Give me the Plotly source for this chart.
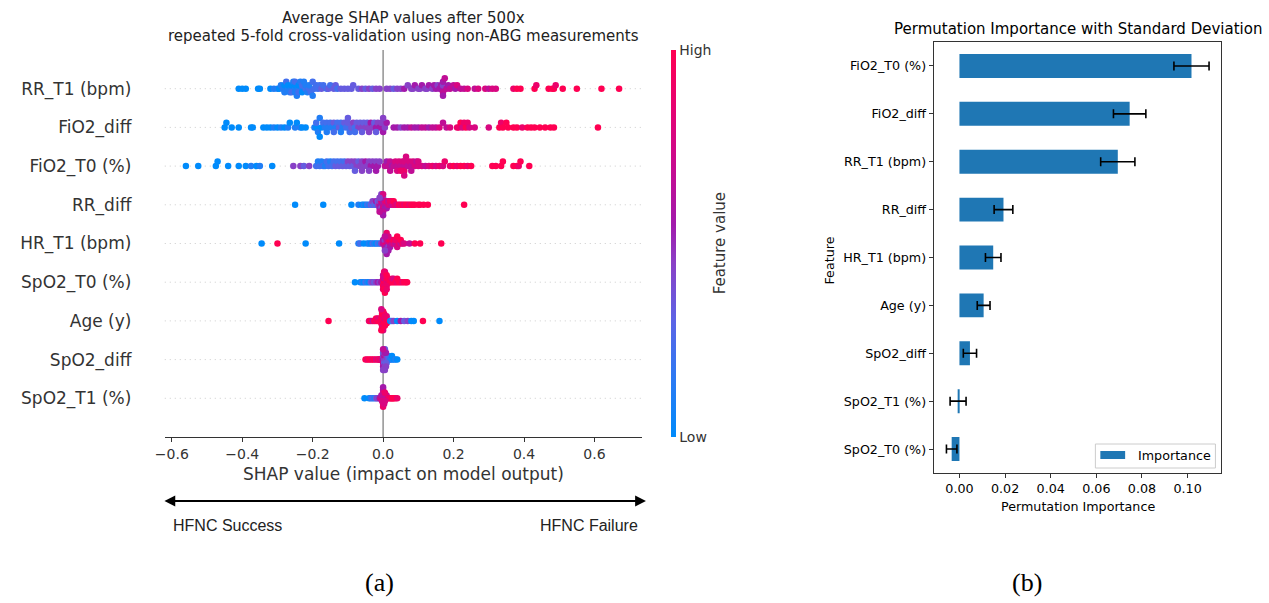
import numpy as np
import plotly.graph_objects as go

W, H = 1269, 603

# ---------------- Data: SHAP beeswarm (panel a) ----------------
shap_features = ["RR_T1 (bpm)", "FiO2_diff", "FiO2_T0 (%)", "RR_diff", "HR_T1 (bpm)",
                 "SpO2_T0 (%)", "Age (y)", "SpO2_diff", "SpO2_T1 (%)"]

rr_t1_x = [-0.41, -0.40, -0.39, -0.355, -0.35, -0.32, -0.31,
           -0.30, -0.295, -0.29, -0.285, -0.28, -0.28, -0.275, -0.27, -0.27, -0.265,
           -0.26, -0.26, -0.26, -0.255, -0.25, -0.25, -0.25, -0.25, -0.245, -0.24,
           -0.24, -0.24, -0.235, -0.23, -0.23, -0.23, -0.225, -0.22, -0.22, -0.215,
           -0.21, -0.21, -0.205, -0.20, -0.20, -0.195, -0.19, -0.185, -0.18, -0.175,
           -0.17, -0.16, -0.155, -0.15, -0.14, -0.135, -0.13, -0.12, -0.11, -0.10,
           -0.09, -0.085, -0.07, -0.06, -0.05, -0.04, -0.03, -0.02, -0.01,
           0.01, 0.02, 0.03, 0.04, 0.05, 0.06, 0.07, 0.08, 0.085, 0.09,
           0.10, 0.105, 0.11, 0.12, 0.125, 0.13, 0.14, 0.145, 0.15, 0.155,
           0.16, 0.165, 0.17, 0.17, 0.17, 0.17, 0.17, 0.175,
           0.18, 0.185, 0.19, 0.20, 0.205, 0.21, 0.22, 0.23, 0.24, 0.26, 0.27, 0.29, 0.30, 0.31, 0.32,
           0.37, 0.38, 0.39, 0.43, 0.435, 0.47, 0.48, 0.485, 0.49, 0.51, 0.55, 0.62, 0.67]
rr_t1_v = [0, 0, 0, 0, 0, 0, 1,
           1, 0, 1, 1, 0, 1, 2, 1, 0, 1,
           1, 0, 2, 1, 1, 0, 1, 2, 1, 1,
           0, 2, 1, 1, 2, 0, 1, 2, 1, 1,
           2, 1, 2, 2, 1, 2, 2, 2, 2, 3,
           2, 2, 3, 2, 3, 3, 2, 3, 3, 3,
           3, 3, 3, 4, 3, 4, 3, 4, 4,
           4, 4, 3, 4, 4, 5, 4, 4, 4, 5,
           4, 4, 5, 4, 4, 5, 4, 5, 5, 4,
           5, 5, 5, 4, 6, 5, 5, 6,
           6, 5, 6, 6, 5, 7, 6, 6, 7, 6, 7, 7, 6, 7, 7,
           8, 9, 9, 9, 8, 9, 9, 9, 8, 9, 9, 9, 9]

fio2_diff_x = [-0.45, -0.445, -0.43, -0.41, -0.375, -0.37, -0.34, -0.33, -0.32, -0.31,
               -0.30, -0.29, -0.28, -0.27, -0.265, -0.25, -0.245, -0.235, -0.23, -0.22,
               -0.195, -0.19, -0.19, -0.185, -0.18, -0.175, -0.17, -0.165, -0.16, -0.155,
               -0.15, -0.145, -0.14, -0.135, -0.13, -0.125, -0.12, -0.115, -0.11, -0.105,
               -0.10, -0.095, -0.09, -0.085, -0.08, -0.075, -0.07, -0.065, -0.06, -0.055,
               -0.05, -0.045, -0.04, -0.035, -0.03, -0.025, -0.02, -0.015, -0.01, -0.005,
               0.0, 0.005, 0.01,
               -0.18, -0.16, -0.14, -0.12, -0.10, -0.08, -0.06, -0.04, -0.02, 0.0,
               0.03, 0.04, 0.05, 0.06, 0.07, 0.08, 0.09,
               0.10, 0.11, 0.12, 0.13, 0.14, 0.15, 0.16, 0.17, 0.18, 0.19,
               0.21, 0.215, 0.22, 0.225, 0.23, 0.235, 0.24, 0.245,
               0.26, 0.30, 0.33, 0.335, 0.34, 0.35, 0.355, 0.37, 0.38, 0.395,
               0.41, 0.42, 0.43, 0.445, 0.46, 0.475, 0.485, 0.61]
fio2_diff_v = [0, 0, 0, 0, 0, 0, 0, 0, 0, 1,
               0, 1, 0, 1, 0, 1, 0, 1, 0, 0,
               1, 0, 2, 1, 1, 0, 2, 1, 2, 1,
               2, 1, 3, 1, 2, 3, 2, 1, 3, 2,
               3, 2, 3, 4, 2, 3, 4, 3, 4, 3,
               4, 3, 4, 5, 4, 3, 5, 4, 5, 4,
               5, 4, 5,
               0, 1, 2, 1, 3, 2, 3, 4, 3, 4,
               5, 5, 4, 5, 5, 6, 5,
               5, 6, 6, 5, 6, 6, 7, 6, 6, 7,
               8, 8, 9, 7, 8, 9, 8, 7,
               7, 7, 9, 8, 9, 9, 9, 9, 9, 8,
               9, 9, 9, 9, 9, 9, 9, 9]

fio2_t0_x = [-0.56, -0.525, -0.475, -0.47, -0.44, -0.41, -0.39, -0.375, -0.36, -0.35, -0.315,
             -0.255, -0.235, -0.225, -0.21,
             -0.19, -0.185, -0.18, -0.175, -0.17, -0.165, -0.16, -0.155, -0.15, -0.145,
             -0.14, -0.135, -0.13, -0.125, -0.12, -0.115, -0.11,
             -0.105, -0.10, -0.095, -0.09, -0.085, -0.08, -0.075, -0.07, -0.065, -0.06,
             -0.055, -0.05, -0.045, -0.04, -0.035, -0.03, -0.025, -0.02, -0.015, -0.01,
             0.005, 0.01, 0.015, 0.02, 0.025, 0.03, 0.035, 0.04, 0.045, 0.05,
             0.055, 0.06, 0.06, 0.06, 0.065, 0.07, 0.075, 0.08, 0.085, 0.09,
             0.095, 0.10, 0.11, 0.12, 0.13, 0.14, 0.15, 0.16, 0.17, 0.175,
             -0.08, -0.06, -0.04, -0.02, 0.02, 0.04, 0.06, 0.08, 0.10, 0.05,
             0.19, 0.20, 0.21, 0.22, 0.23, 0.24, 0.25,
             0.31, 0.32, 0.335, 0.34, 0.37, 0.38, 0.385, 0.39, 0.415]
fio2_t0_v = [0, 0, 0, 0, 0, 0, 0, 1, 0, 1, 0,
             4, 4, 3, 4,
             2, 1, 2, 1, 2, 1, 2, 2, 1, 2,
             2, 3, 2, 3, 2, 3, 2,
             3, 4, 3, 4, 3, 4, 4, 3, 4, 4,
             4, 5, 4, 4, 5, 4, 5, 4, 5, 4,
             6, 5, 6, 6, 5, 6, 7, 6, 7, 6,
             7, 6, 7, 8, 7, 6, 7, 6, 7, 7,
             6, 7, 7, 6, 7, 8, 7, 8, 7, 8,
             3, 4, 4, 5, 6, 7, 7, 6, 7, 8,
             8, 9, 8, 9, 9, 8, 9,
             9, 9, 9, 9, 9, 9, 8, 9, 9]

rr_diff_x = [-0.25, -0.17, -0.09, -0.07, -0.06, -0.055, -0.05, -0.045,
             -0.04, -0.035, -0.03, -0.03, -0.025, -0.02, -0.02, -0.015, -0.015, -0.01,
             -0.01, -0.01, -0.005, -0.005, -0.005, 0.0, 0.0, 0.0, 0.0, 0.005,
             0.005, 0.005, 0.01, 0.01, 0.01, 0.015, 0.015, 0.02, 0.02, 0.025,
             0.025, 0.03, 0.03,
             0.035, 0.04, 0.045, 0.05, 0.055, 0.06, 0.065, 0.07, 0.075, 0.08,
             0.085, 0.09, 0.10, 0.105, 0.115, 0.127, 0.23,
             -0.005, -0.005, -0.005, 0.0, 0.0, 0.0, -0.01, -0.01]
rr_diff_v = [0, 0, 0, 1, 0, 1, 0, 2,
             1, 3, 2, 4, 3, 2, 5, 4, 3, 6,
             4, 5, 5, 7, 4, 6, 5, 7, 4, 6,
             7, 5, 6, 8, 5, 7, 6, 7, 8, 6,
             8, 7, 9,
             8, 7, 9, 8, 9, 8, 9, 9, 8, 9,
             9, 9, 9, 9, 9, 9, 9,
             5, 6, 4, 6, 7, 5, 4, 6]

hr_t1_x = [-0.345, -0.30, -0.22, -0.125, -0.07, -0.065, -0.055, -0.045, -0.04, -0.035,
           -0.03, -0.025, -0.02, -0.015, -0.01,
           -0.005, 0.0, 0.0, 0.005, 0.005, 0.005, 0.01, 0.01, 0.01, 0.01,
           0.015, 0.015, 0.015, 0.02, 0.02, 0.02, 0.025, 0.025, 0.03, 0.03,
           0.035, 0.035, 0.04, 0.04, 0.045, 0.05, 0.05, 0.055, 0.06,
           0.075, 0.09, 0.105, 0.165,
           0.01, 0.01, 0.01, 0.015, 0.015, 0.005, 0.005]
hr_t1_v = [0, 9, 0, 0, 1, 2, 0, 0, 1, 0,
           2, 1, 0, 2, 1,
           4, 6, 5, 7, 4, 6, 8, 6, 5, 7,
           6, 8, 4, 7, 9, 5, 6, 8, 7, 9,
           6, 8, 7, 9, 8, 6, 9, 8, 7,
           6, 9, 9, 9,
           6, 8, 5, 7, 5, 6, 4]

spo2_t0_x = [-0.08, -0.065, -0.06, -0.055, -0.05, -0.045, -0.04, -0.035, -0.03, -0.025,
             -0.02, -0.015, -0.01, -0.005,
             0.0, 0.0, 0.0, 0.0, 0.0, 0.003, 0.003, 0.003, 0.005, 0.005,
             0.005, 0.008, 0.008, 0.01, 0.01, 0.01, 0.012, 0.012, 0.015, 0.015,
             0.018, 0.02,
             0.025, 0.025, 0.03, 0.03, 0.035, 0.04, 0.04, 0.045, 0.05, 0.055,
             0.06, 0.065, 0.068,
             0.005, 0.005, 0.005, 0.005, 0.008, 0.008, 0.008, 0.003, 0.003, 0.003, 0.01, 0.01]
spo2_t0_v = [0, 0, 1, 0, 2, 1, 0, 3, 4, 3,
             4, 5, 4, 5,
             7, 8, 9, 6, 8, 9, 7, 8, 9, 6,
             8, 9, 7, 8, 9, 8, 7, 9, 8, 9,
             8, 9,
             9, 8, 9, 7, 9, 8, 9, 9, 9, 8,
             9, 9, 9,
             9, 8, 7, 9, 8, 9, 6, 7, 9, 8, 9, 8]

age_x = [-0.155, -0.04, -0.035, -0.03, -0.025, -0.02, -0.02,
         -0.015, -0.015, -0.012, -0.01, -0.01, -0.008, -0.005, -0.005, -0.005, -0.003,
         -0.003, 0.0, 0.0, 0.0, 0.0, 0.0, 0.003, 0.003, 0.003, 0.005,
         0.005, 0.005, 0.008, 0.008, 0.01, 0.01, 0.012, 0.015, 0.017,
         0.02, 0.025, 0.03, 0.04, 0.05, 0.06, 0.07, 0.08, 0.087, 0.113, 0.16,
         0.0, 0.0, 0.0, 0.0, 0.003, 0.003, 0.003, -0.003, -0.003, -0.003, 0.005, 0.005, -0.005, -0.005]
age_v = [9, 8, 9, 6, 9, 8, 9,
         9, 8, 9, 9, 7, 9, 8, 9, 9, 9,
         8, 9, 9, 8, 7, 9, 9, 8, 9, 9,
         6, 9, 8, 9, 9, 7, 9, 8, 9,
         0, 2, 4, 0, 5, 3, 4, 0, 0, 9, 0,
         9, 8, 9, 7, 9, 9, 8, 9, 8, 9, 8, 9, 9, 7]

spo2_diff_x = [-0.05, -0.045, -0.04, -0.035, -0.03, -0.025, -0.02, -0.015, -0.012, -0.01,
               -0.008, -0.005,
               0.0, 0.0, 0.0, 0.0, 0.0, 0.003, 0.003, 0.003, 0.005, 0.005,
               0.005, 0.008, 0.008, 0.01, 0.01, 0.01, 0.012, 0.015, 0.015, 0.018,
               0.02,
               0.025, 0.025, 0.03, 0.035, 0.04,
               0.003, 0.003, 0.003, 0.005, 0.005, 0.005, 0.005, 0.008, 0.008, 0.008, 0.0, 0.0]
spo2_diff_v = [9, 8, 9, 9, 8, 9, 7, 9, 8, 6,
               9, 7,
               5, 4, 6, 3, 5, 4, 5, 3, 4, 6,
               3, 4, 5, 3, 4, 2, 4, 3, 2, 3,
               1,
               1, 0, 0, 1, 0,
               4, 5, 3, 5, 4, 3, 4, 3, 5, 4, 6, 4]

spo2_t1_x = [-0.053, -0.04, -0.035, -0.03, -0.025, -0.02, -0.017, -0.012,
             -0.01, -0.008, -0.005, -0.005, -0.003, 0.0, 0.0, 0.0, 0.0, 0.003,
             0.003, 0.005, 0.005, 0.008, 0.01, 0.01, 0.012, 0.015,
             0.02, 0.022, 0.025, 0.028, 0.03, 0.035, 0.04,
             0.0, 0.0, 0.0, 0.0, 0.003, 0.003, 0.003, -0.003, -0.003, 0.005, 0.005]
spo2_t1_v = [0, 0, 1, 2, 1, 3, 4, 3,
             5, 6, 7, 5, 6, 7, 5, 8, 6, 7,
             5, 8, 6, 7, 8, 6, 7, 8,
             9, 8, 9, 9, 9, 9, 8,
             7, 6, 8, 5, 6, 8, 7, 6, 7, 7, 8]

shap_x = [rr_t1_x, fio2_diff_x, fio2_t0_x, rr_diff_x, hr_t1_x,
          spo2_t0_x, age_x, spo2_diff_x, spo2_t1_x]
shap_v = [rr_t1_v, fio2_diff_v, fio2_t0_v, rr_diff_v, hr_t1_v,
          spo2_t0_v, age_v, spo2_diff_v, spo2_t1_v]
shap_ticks = [-0.6, -0.4, -0.2, 0.0, 0.2, 0.4, 0.6]

# ---------------- Data: permutation importance (panel b) ----------------
perm_features = ["FiO2_T0 (%)", "FiO2_diff", "RR_T1 (bpm)", "RR_diff", "HR_T1 (bpm)",
                 "Age (y)", "SpO2_diff", "SpO2_T1 (%)", "SpO2_T0 (%)"]
perm_importance = [0.1017, 0.0746, 0.0694, 0.0193, 0.0148, 0.0106, 0.0046, -0.0006, -0.0034]
perm_std = [0.0077, 0.0071, 0.0075, 0.0041, 0.0034, 0.0028, 0.0029, 0.0035, 0.0023]
perm_ticks = [0.0, 0.02, 0.04, 0.06, 0.08, 0.10]


def px(x):
    return x / W


def py(y):
    return 1 - y / H


def swarm_offsets(vals, row_height=0.4, nbins=100):
    """Beeswarm layout as in shap.summary_plot."""
    v = np.asarray(vals, dtype=float)
    quant = np.round(nbins * (v - v.min()) / (v.max() - v.min() + 1e-8))
    inds = np.argsort(quant, kind="stable")
    layer, last_bin = 0, -1
    ys = np.zeros(len(v))
    for ind in inds:
        if quant[ind] != last_bin:
            layer = 0
        ys[ind] = np.ceil(layer / 2) * ((layer % 2) * 2 - 1)
        layer += 1
        last_bin = quant[ind]
    ys *= 0.9 * (row_height / np.max(ys + 1))
    return ys


fig = go.Figure()

n_rows = len(shap_features)
for i, (xs, vs) in enumerate(zip(shap_x, shap_v)):
    assert len(xs) == len(vs), (i, len(xs), len(vs))
    pos = n_rows - 1 - i
    ys = swarm_offsets(xs)
    fig.add_trace(go.Scatter(
        x=xs, y=pos + ys, mode="markers",
        marker=dict(size=6.5, color=vs, coloraxis="coloraxis", line=dict(width=0)),
        xaxis="x", yaxis="y", showlegend=False, hoverinfo="skip"))

fig.add_trace(go.Bar(
    x=perm_importance, y=perm_features, orientation="h", width=0.5,
    marker=dict(color="#1f77b4", line=dict(width=0)),
    error_x=dict(type="data", array=perm_std, color="black", thickness=1.6, width=4.5),
    xaxis="x2", yaxis="y2", showlegend=False, name="Importance"))

shap_scale = [[0.0, "#008bfb"], [0.15, "#2c7af3"], [0.3, "#5c64e6"], [0.45, "#8a40c6"],
              [0.55, "#a21aac"], [0.7, "#c80b8f"], [0.85, "#e60372"], [1.0, "#ff0052"]]

shapes = []
for pos in range(n_rows):
    shapes.append(dict(type="line", xref="x domain", yref="y", x0=0, x1=1, y0=pos, y1=pos,
                       line=dict(color="#cccccc", width=1, dash="1px,4px"), layer="below"))
shapes.append(dict(type="line", xref="x", yref="y domain", x0=0, x1=0, y0=0, y1=1,
                   line=dict(color="#999999", width=1.6), layer="below"))
# manual legend for panel b
shapes.append(dict(type="rect", xref="paper", yref="paper", x0=px(1094), x1=px(1215),
                   y0=py(468), y1=py(444), line=dict(color="#cccccc", width=1),
                   fillcolor="white", layer="above"))
shapes.append(dict(type="rect", xref="paper", yref="paper", x0=px(1099), x1=px(1124),
                   y0=py(459), y1=py(451), line=dict(width=0),
                   fillcolor="#1f77b4", layer="above"))

dv = "DejaVu Sans"
narrow = "Liberation Sans Narrow, Liberation Sans"
annotations = [
    dict(text="Average SHAP values after 500x", x=px(397), y=py(18), font=dict(size=15, color="#222", family=dv)),
    dict(text="repeated 5-fold cross-validation using non-ABG measurements", x=px(397), y=py(36),
         font=dict(size=15, color="#222", family=dv)),
    dict(text="SHAP value (impact on model output)", x=px(396.5), y=py(474),
         font=dict(size=17, color="#333", family=dv)),
    dict(text="Feature value", x=px(716), y=py(243), textangle=-90,
         font=dict(size=15, color="#333", family=dv)),
    dict(text="HFNC Success", x=px(162), y=py(525), xanchor="left",
         font=dict(size=16, color="#222", family=narrow)),
    dict(text="HFNC Failure", x=px(635), y=py(525), xanchor="right",
         font=dict(size=16, color="#222", family=narrow)),
    dict(text="(a)", x=px(372), y=py(582), font=dict(size=26, color="black", family="Liberation Serif")),
    dict(text="(b)", x=px(1025), y=py(582), font=dict(size=26, color="black", family="Liberation Serif")),
    dict(text="Permutation Importance with Standard Deviation", x=px(1076), y=py(29),
         font=dict(size=15, color="black", family=dv)),
    dict(text="Permutation Importance", x=px(1076), y=py(507), font=dict(size=12.7, color="black", family=dv)),
    dict(text="Feature", x=px(826), y=py(260), textangle=-90, font=dict(size=12.7, color="black", family=dv)),
    dict(text="Importance", x=px(1135), y=py(455.5), xanchor="left",
         font=dict(size=12.7, color="black", family=dv)),
]
for a in annotations:
    a.setdefault("xref", "paper")
    a.setdefault("yref", "paper")
    a.setdefault("showarrow", False)
    a.setdefault("xanchor", "center")
    a.setdefault("yanchor", "middle")

annotations.append(dict(text="", x=px(641), y=py(501), xref="paper", yref="paper",
                        ax=-483, ay=0, axref="pixel", ayref="pixel", showarrow=True,
                        arrowhead=2, arrowside="end+start", arrowsize=1.2, arrowwidth=1.8,
                        arrowcolor="black"))

fig.update_layout(
    width=W, height=H, margin=dict(l=0, r=0, t=0, b=0),
    paper_bgcolor="white", plot_bgcolor="white",
    font=dict(family=dv, color="#333"),
    showlegend=False,
    coloraxis=dict(
        colorscale=shap_scale, cmin=0, cmax=9,
        colorbar=dict(thickness=5, thicknessmode="pixels", len=387, lenmode="pixels",
                      x=px(666), xanchor="left", y=py(50), yanchor="top",
                      xpad=0, ypad=0, outlinewidth=0, tickvals=[0, 9], ticktext=["Low", "High"],
                      ticks="", tickfont=dict(size=14, color="#333", family=dv))),
    xaxis=dict(domain=[px(156), px(637)], anchor="y", range=[-0.62, 0.735],
               tickvals=shap_ticks, tickformat=".1f", ticks="outside", ticklen=4, tickwidth=1,
               tickcolor="#333", showline=True, linecolor="#333", linewidth=1.2,
               showgrid=False, zeroline=False, tickfont=dict(size=14, color="#333", family=dv)),
    yaxis=dict(domain=[py(437), py(50)], anchor="x", range=[-1, 9],
               tickvals=list(range(n_rows)), ticktext=shap_features[::-1],
               ticks="outside", ticklen=29, tickcolor="rgba(0,0,0,0)",
               showline=False, showgrid=False, zeroline=False,
               tickfont=dict(size=17, color="#333", family=dv)),
    xaxis2=dict(domain=[px(931), px(1221)], anchor="y2", range=[-0.0113, 0.1148],
                tickvals=perm_ticks, tickformat=".2f", ticks="outside", ticklen=4, tickwidth=1,
                tickcolor="#333", showline=True, mirror=True, linecolor="#333", linewidth=1,
                showgrid=False, zeroline=False, tickfont=dict(size=12.7, color="black", family=dv)),
    yaxis2=dict(domain=[py(473), py(42)], anchor="x2", type="category",
                categoryorder="array", categoryarray=perm_features[::-1], range=[-0.5, 8.5],
                ticks="outside", ticklen=4, tickwidth=1, tickcolor="#333",
                showline=True, mirror=True, linecolor="#333", linewidth=1,
                showgrid=False, zeroline=False, tickfont=dict(size=12.7, color="black", family=dv)),
    shapes=shapes,
    annotations=annotations,
)

fig.write_html("out.html", config={"displayModeBar": False})

# remove the browser's default 8px body margin so the figure sits at the page origin
with open("out.html", "r", encoding="utf-8") as f:
    html = f.read()
html = html.replace("<body>", '<body style="margin:0;padding:0;overflow:hidden;">', 1)
with open("out.html", "w", encoding="utf-8") as f:
    f.write(html)
